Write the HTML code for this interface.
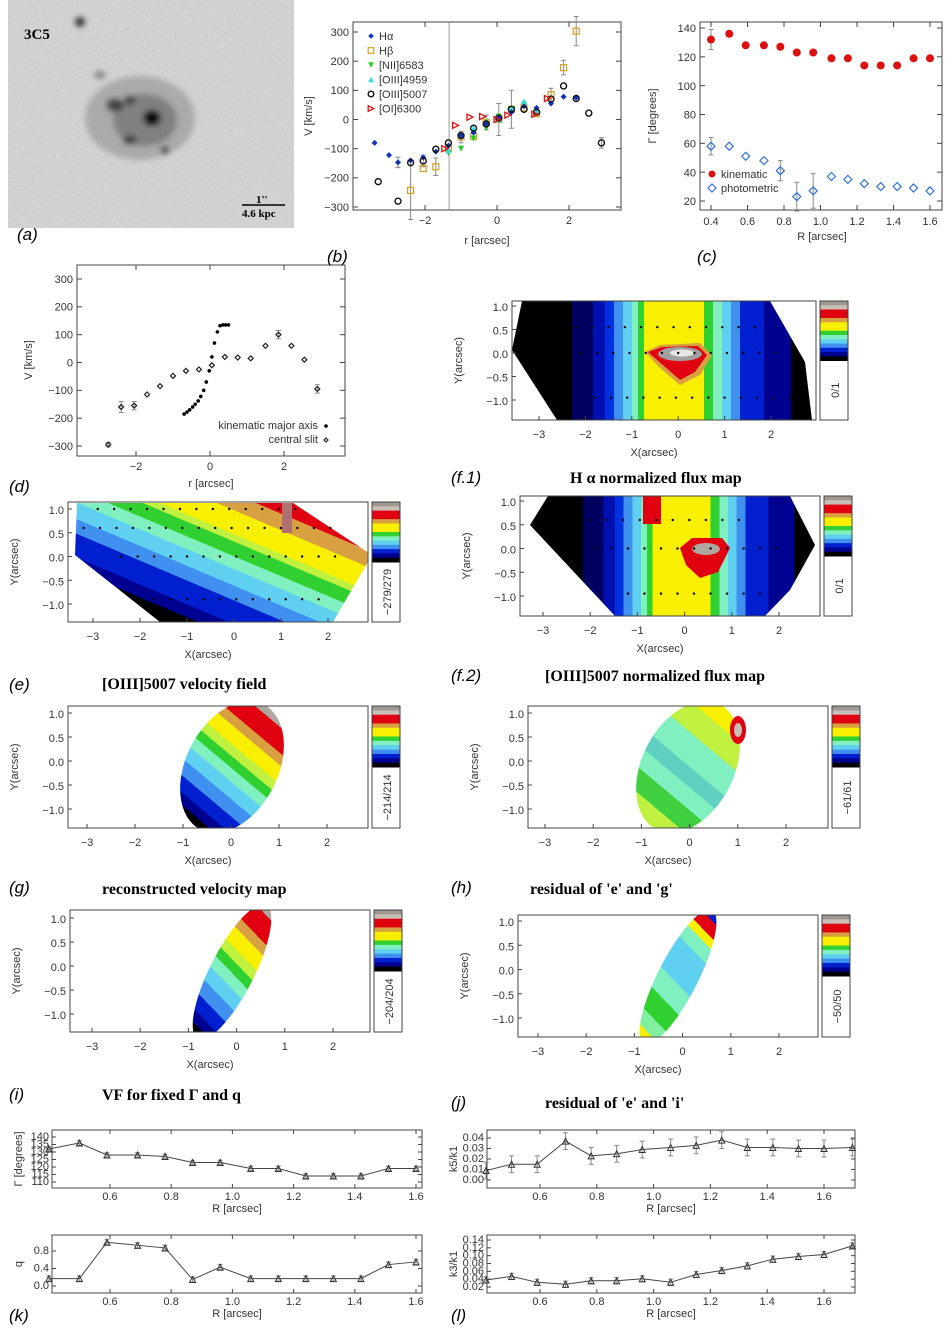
<!DOCTYPE html>
<html><head><meta charset="utf-8"><style>
html,body{margin:0;padding:0;background:#fff;}
svg{display:block;font-family:"Liberation Sans",sans-serif;}
.t{font-size:11px;fill:#333;}
.lab{font-size:17px;font-style:italic;fill:#000;}
.ttl{font-family:"Liberation Serif",serif;font-weight:bold;font-size:16px;fill:#000;}
</style></head><body>
<svg id="fig" width="952" height="1328" viewBox="0 0 952 1328">
<defs>
<clipPath id="aclip"><rect x="8" y="0" width="286" height="228"/></clipPath>
<filter id="blur4"><feGaussianBlur stdDeviation="3"/></filter>
<filter id="noise" x="0" y="0" width="1" height="1"><feTurbulence type="fractalNoise" baseFrequency="0.9" numOctaves="1" result="n"/><feColorMatrix type="saturate" values="0"/><feComponentTransfer><feFuncA type="table" tableValues="0 0.35"/></feComponentTransfer></filter>
</defs>
<g clip-path="url(#aclip)">
<rect x="8" y="0" width="286" height="228" fill="#d6d6d6"/>
<rect x="8" y="0" width="286" height="228" filter="url(#noise)"/>
<g filter="url(#blur4)">
<ellipse cx="140" cy="118" rx="55" ry="42" fill="#aaaaaa"/>
<ellipse cx="145" cy="120" rx="32" ry="26" fill="#808080"/>
<ellipse cx="115" cy="105" rx="9" ry="7" fill="#444"/>
<ellipse cx="130" cy="100" rx="6" ry="5" fill="#444"/>
<ellipse cx="152" cy="118" rx="9" ry="8" fill="#111"/>
<ellipse cx="165" cy="150" rx="4" ry="4" fill="#333"/>
<ellipse cx="130" cy="140" rx="7" ry="5" fill="#444"/>
<ellipse cx="80" cy="22" rx="5" ry="5" fill="#333"/>
<ellipse cx="100" cy="75" rx="6" ry="4" fill="#888"/>
</g>
<text x="24" y="39" font-family="Liberation Serif" font-weight="bold" font-size="15">3C5</text>
<text x="256" y="203" font-family="Liberation Serif" font-weight="bold" font-size="11">1''</text>
<line x1="242" y1="205" x2="285" y2="205" stroke="#000" stroke-width="1.5"/>
<text x="242" y="217" font-family="Liberation Serif" font-weight="bold" font-size="11">4.6 kpc</text>
</g>
<g id="root"></g>
<g>
<text class="lab" x="17" y="240">(a)</text>
<text class="lab" x="327" y="262">(b)</text>
<text class="lab" x="697" y="262">(c)</text>
<text class="lab" x="9" y="492">(d)</text>
<text class="lab" x="451" y="483">(f.1)</text>
<text class="ttl" x="570" y="483">H α normalized flux map</text>
<text class="lab" x="9" y="690">(e)</text>
<text class="ttl" x="102" y="689">[OIII]5007 velocity field</text>
<text class="lab" x="451" y="681">(f.2)</text>
<text class="ttl" x="545" y="681">[OIII]5007 normalized flux map</text>
<text class="lab" x="9" y="893">(g)</text>
<text class="ttl" x="102" y="894">reconstructed velocity map</text>
<text class="lab" x="451" y="893">(h)</text>
<text class="ttl" x="530" y="894">residual of 'e' and 'g'</text>
<text class="lab" x="9" y="1100">(i)</text>
<text class="ttl" x="102" y="1100">VF for fixed Γ and q</text>
<text class="lab" x="451" y="1108">(j)</text>
<text class="ttl" x="545" y="1108">residual of 'e' and 'i'</text>
<text class="lab" x="9" y="1321">(k)</text>
<text class="lab" x="451" y="1321">(l)</text>
</g>
</svg>
<script>
// ---------- data ----------
const bHaR=[-3.4,-3.0,-2.75,-2.4,-2.05,-1.7,-1.35,-1.0,-0.65,-0.3,0.05,0.4,0.75,1.1,1.5,1.85,2.2];
const bHaV=[-80,-122,-147,-140,-130,-110,-90,-55,-45,-15,5,25,45,40,55,78,75];
const bHbR=[-2.4,-2.05,-1.7,-1.35,-1.0,-0.65,-0.3,0.05,0.4,0.75,1.1,1.5,1.85,2.2];
const bHbV=[-243,-168,-162,-100,-60,-58,-10,0,35,40,20,85,178,303];
const bNiiR=[-1.35,-1.0,-0.65,-0.3,0.05,0.4,0.75,1.1];
const bNiiV=[-115,-100,-65,-30,10,35,50,30];
const bO4959R=[-1.35,-1.0,-0.65,-0.3,0.05,0.4,0.75,1.1];
const bO4959V=[-105,-55,-30,-5,0,40,62,30];
const bO5007R=[-3.3,-2.75,-2.4,-2.05,-1.7,-1.35,-1.0,-0.65,-0.3,0.05,0.4,0.75,1.1,1.5,1.85,2.2,2.55,2.9];
const bO5007V=[-213,-280,-148,-142,-102,-80,-55,-30,-15,5,35,35,25,70,115,72,22,-80];
const bOiR=[-1.45,-1.15,-0.75,-0.4,0.0,0.3,1.05,1.4];
const bOiV=[-100,-20,8,10,0,15,18,72];
const cR=[0.4,0.5,0.59,0.69,0.78,0.87,0.96,1.06,1.15,1.24,1.33,1.42,1.51,1.6];
const cKin=[132,136,128,128,127,123,123,119,119,114,114,114,119,119];
const cPhot=[58,58,51,48,41,23,27,37,35,32,30,30,29,27];
const dKinR=[-0.70,-0.62,-0.55,-0.47,-0.40,-0.32,-0.25,-0.17,-0.10,-0.02,0.05,0.12,0.20,0.27,0.35,0.42,0.50];
const dKinV=[-185,-178,-170,-160,-150,-138,-122,-100,-70,-30,20,70,110,132,135,135,135];
const dSlitR=[-2.75,-2.4,-2.05,-1.7,-1.35,-1.0,-0.65,-0.3,0.05,0.4,0.75,1.1,1.5,1.85,2.2,2.55,2.9];
const dSlitV=[-295,-160,-155,-115,-85,-48,-30,-25,-10,20,18,15,60,100,60,10,-95];
const kR=[0.4,0.5,0.59,0.69,0.78,0.87,0.96,1.06,1.15,1.24,1.33,1.42,1.51,1.6];
const kGamma=[132,136,128,128,127,123,123,119,119,114,114,114,119,119];
const kQ=[0.17,0.17,1.0,0.93,0.87,0.15,0.43,0.17,0.17,0.17,0.17,0.17,0.49,0.55];
const lR=[0.41,0.5,0.59,0.69,0.78,0.87,0.96,1.06,1.15,1.24,1.33,1.42,1.51,1.6,1.7];
const lK5=[0.009,0.015,0.015,0.037,0.023,0.025,0.029,0.031,0.033,0.038,0.031,0.031,0.030,0.030,0.031];
const lK3=[0.038,0.047,0.032,0.027,0.036,0.036,0.041,0.032,0.052,0.062,0.074,0.091,0.098,0.103,0.125];
const bTicksX=[-2,0,2], bTicksY=[-300,-200,-100,0,100,200,300];
const cTicksX=[0.4,0.6,0.8,1.0,1.2,1.4,1.6], cTicksY=[20,40,60,80,100,120,140];
const mapTicksX=[-3,-2,-1,0,1,2], mapTicksY=[1.0,0.5,0.0,-0.5,-1.0];

const NS="http://www.w3.org/2000/svg";
const root=document.getElementById('root');
function mk(tag,attrs,parent,name,inter){
  const el=document.createElementNS(NS,tag);
  for(const k in attrs) el.setAttribute(k,attrs[k]);
  
  
  (parent||root).appendChild(el);return el;
}
function txt(x,y,s,parent,name,extra){const e=mk('text',Object.assign({x:x,y:y,class:'t'},extra||{}),parent,name,false);e.textContent=s;return e;}
function lin(d0,d1,r0,r1){return v=>r0+(v-d0)*(r1-r0)/(d1-d0);}
function fmt(v,d){return v.toFixed(d).replace('-','−');}

function frame(g,x0,y0,x1,y1,name){mk('rect',{x:x0,y:y0,width:x1-x0,height:y1-y0,fill:'none',stroke:'#444','stroke-width':1},g,name,false);}
function ticks(g,X,Y,x0,y0,x1,y1,tx,ty,dx,dy,fs,len){
  tx.forEach(v=>{const p=X(v);
    mk('line',{x1:p,y1:y1,x2:p,y2:y1-len,stroke:'#444'},g,'x-tick',false);
    mk('line',{x1:p,y1:y0,x2:p,y2:y0+len,stroke:'#444'},g,'x-tick',false);
    txt(p,y1+fs+3,fmt(v,dx),g,'x-tick-label',{'text-anchor':'middle','font-size':fs});});
  ty.forEach(v=>{const p=Y(v);
    mk('line',{x1:x0,y1:p,x2:x0+len,y2:p,stroke:'#444'},g,'y-tick',false);
    mk('line',{x1:x1,y1:p,x2:x1-len,y2:p,stroke:'#444'},g,'y-tick',false);
    txt(x0-4,p+fs*0.35,fmt(v,dy),g,'y-tick-label',{'text-anchor':'end','font-size':fs});});
}
function marker(g,type,x,y,col,s){
  s=s||3;
  if(type==='dot') return mk('circle',{cx:x,cy:y,r:1.8,fill:col},g,'point',false);
  if(type==='sq') return mk('rect',{x:x-s,y:y-s,width:2*s,height:2*s,fill:'none',stroke:col,'stroke-width':1.2},g,'point',false);
  if(type==='circ') return mk('circle',{cx:x,cy:y,r:s,fill:'none',stroke:col,'stroke-width':1.4},g,'point',false);
  if(type==='fcirc') return mk('circle',{cx:x,cy:y,r:s,fill:col},g,'point',false);
  if(type==='dtri') return mk('polygon',{points:`${x-s},${y-s} ${x+s},${y-s} ${x},${y+s}`,fill:col},g,'point',false);
  if(type==='utri') return mk('polygon',{points:`${x-s},${y+s} ${x+s},${y+s} ${x},${y-s}`,fill:col},g,'point',false);
  if(type==='otri') return mk('polygon',{points:`${x-s},${y+s} ${x+s},${y+s} ${x},${y-s}`,fill:'none',stroke:col},g,'point',false);
  if(type==='rtri') return mk('polygon',{points:`${x-s},${y-s} ${x-s},${y+s} ${x+s},${y}`,fill:'none',stroke:col,'stroke-width':1.3},g,'point',false);
  if(type==='diam') return mk('polygon',{points:`${x},${y-s} ${x+s},${y} ${x},${y+s} ${x-s},${y}`,fill:'none',stroke:col,'stroke-width':1.2},g,'point',false);
  if(type==='fdiam') return mk('polygon',{points:`${x},${y-s} ${x+s},${y} ${x},${y+s} ${x-s},${y}`,fill:col},g,'point',false);
}
function err(g,x,y0,y1){mk('line',{x1:x,y1:y0,x2:x,y2:y1,stroke:'#888'},g,'error-bar',false);
  mk('line',{x1:x-2.5,y1:y0,x2:x+2.5,y2:y0,stroke:'#888'},g,'error-cap',false);
  mk('line',{x1:x-2.5,y1:y1,x2:x+2.5,y2:y1,stroke:'#888'},g,'error-cap',false);}

// ---------- panel b ----------
(function(){
  const g=mk('g',{},root,'panel-b-velocity-curves',false);
  const X=lin(0,2,497,569),Y=lin(300,-300,32,207);
  frame(g,353,22,621,210,'plot-frame');
  ticks(g,X,Y,353,22,621,210,bTicksX,bTicksY,0,0,11,5);
  mk('line',{x1:X(-1.33),y1:22,x2:X(-1.33),y2:210,stroke:'#999'},g,'reference-line',false);
  txt(487,244,'r [arcsec]',g,'x-axis-title',{'text-anchor':'middle'});
  txt(0,0,'V [km/s]',g,'y-axis-title',{'text-anchor':'middle',transform:'translate(312,116) rotate(-90)'});
  [[-2.4,-243,100],[-1.0,-60,20],[0.05,0,55],[-0.3,-10,25],[0.4,35,65],[1.5,85,22],[1.85,178,25],[2.2,303,50],[2.9,-80,18],[-2.75,-147,18],[-2.05,-142,20],[-1.7,-162,30]].forEach(d=>err(g,X(d[0]),Y(d[1]+d[2]),Y(d[1]-d[2])));
  const sets=[[bHbR,bHbV,'sq','#d4a020'],[bNiiR,bNiiV,'dtri','#22cc22'],[bO4959R,bO4959V,'utri','#33dddd'],[bHaR,bHaV,'fdiam','#1030c0'],[bO5007R,bO5007V,'circ','#111'],[bOiR,bOiV,'rtri','#dd1010']];
  sets.forEach(s=>s[0].forEach((r,i)=>marker(g,s[2],X(r),Y(s[1][i]),s[3],3)));
  const leg=[['Hα','fdiam','#1030c0'],['Hβ','sq','#d4a020'],['[NII]6583','dtri','#22cc22'],['[OIII]4959','utri','#33dddd'],['[OIII]5007','circ','#111'],['[OI]6300','rtri','#dd1010']];
  leg.forEach((l,i)=>{const y=39+i*14.5;const lg=mk('g',{},g,'legend-entry',false);marker(lg,l[1],371,y-3,l[2],2.8);txt(379,y+1,l[0],lg,'legend-label',{'font-size':11});});
})();

// ---------- panel c ----------
(function(){
  const g=mk('g',{},root,'panel-c-position-angle',false);
  const X=lin(0.4,1.6,711,930),Y=lin(140,20,28,201);
  frame(g,700,22,942,210,'plot-frame');
  ticks(g,X,Y,700,22,942,210,cTicksX,cTicksY,1,0,12,5);
  txt(822,240,'R [arcsec]',g,'x-axis-title',{'text-anchor':'middle','font-size':12});
  txt(0,0,'Γ [degrees]',g,'y-axis-title',{'text-anchor':'middle','font-size':12,transform:'translate(656,116) rotate(-90)'});
  err(g,X(0.4),Y(cKin[0]+7),Y(cKin[0]-7));err(g,X(0.4),Y(cPhot[0]+6),Y(cPhot[0]-6));
  err(g,X(0.78),Y(cPhot[4]+7),Y(cPhot[4]-7));err(g,X(0.87),Y(cPhot[5]+10),Y(cPhot[5]-10));err(g,X(0.96),Y(cPhot[6]+12),Y(cPhot[6]-12));
  cR.forEach((r,i)=>{marker(g,'fcirc',X(r),Y(cKin[i]),'#dd1010',4);marker(g,'diam',X(r),Y(cPhot[i]),'#3070e0',4);});
  marker(g,'fcirc',712,174,'#dd1010',3.5);txt(721,178,'kinematic',g,'legend-label',{'font-size':12});
  marker(g,'diam',712,188,'#3070e0',4);txt(721,192,'photometric',g,'legend-label',{'font-size':12});
})();

// ---------- panel d ----------
(function(){
  const g=mk('g',{},root,'panel-d-velocity',false);
  const X=lin(0,2,210,284),Y=lin(300,-300,279,446);
  frame(g,77,265,345,456,'plot-frame');
  ticks(g,X,Y,77,265,345,456,[-2,0,2],bTicksY,0,0,11,5);
  txt(211,487,'r [arcsec]',g,'x-axis-title',{'text-anchor':'middle'});
  txt(0,0,'V [km/s]',g,'y-axis-title',{'text-anchor':'middle',transform:'translate(32,360) rotate(-90)'});
  dKinR.forEach((r,i)=>marker(g,'dot',X(r),Y(dKinV[i]),'#000'));
  [[-2.4,20],[-2.05,15],[1.85,15],[2.9,15],[-2.75,8]].forEach(d=>{const i=dSlitR.indexOf(d[0]);err(g,X(d[0]),Y(dSlitV[i]+d[1]),Y(dSlitV[i]-d[1]));});
  dSlitR.forEach((r,i)=>marker(g,'diam',X(r),Y(dSlitV[i]),'#222',2.5));
  txt(318,429,'kinematic major axis',g,'legend-label',{'text-anchor':'end','font-size':10});marker(g,'dot',326,426,'#000');
  txt(318,443,'central slit',g,'legend-label',{'text-anchor':'end','font-size':10});marker(g,'diam',326,440,'#222',2);
})();

// ---------- bottom small panels ----------
function small(name,x0,y0,x1,y1,X,Y,tx,ty,dy,R,V,errs,ytitle){
  const g=mk('g',{},root,name,false);
  frame(g,x0,y0,x1,y1,'plot-frame');
  tx.forEach(v=>{const p=X(v);mk('line',{x1:p,y1:y1,x2:p,y2:y1-4,stroke:'#444'},g,'x-tick',false);mk('line',{x1:p,y1:y0,x2:p,y2:y0+4,stroke:'#444'},g,'x-tick',false);txt(p,y1+12,v.toFixed(1),g,'x-tick-label',{'text-anchor':'middle','font-size':9});});
  ty.forEach(v=>{const p=Y(v);mk('line',{x1:x0,y1:p,x2:x0+4,y2:p,stroke:'#444'},g,'y-tick',false);mk('line',{x1:x1,y1:p,x2:x1-4,y2:p,stroke:'#444'},g,'y-tick',false);txt(x0-3,p+3,v.toFixed(dy),g,'y-tick-label',{'text-anchor':'end','font-size':ty.length>4?7.5:9});});
  txt((x0+x1)/2,y1+24,'R [arcsec]',g,'x-axis-title',{'text-anchor':'middle','font-size':9});
  txt(0,0,ytitle,g,'y-axis-title',{'text-anchor':'middle','font-size':9,transform:`translate(${x0-30},${(y0+y1)/2}) rotate(-90)`});
  mk('polyline',{points:R.map((r,i)=>X(r)+','+Y(V[i])).join(' '),fill:'none',stroke:'#444'},g,'series-line',false);
  if(errs) R.forEach((r,i)=>err(g,X(r),Y(V[i]+errs),Y(V[i]-errs)));
  R.forEach((r,i)=>marker(g,'otri',X(r),Y(V[i]),'#333',3));
}
small('panel-k-gamma',52,1130,422,1188,lin(0.6,1.6,110,416),lin(140,110,1137,1182),[0.6,0.8,1.0,1.2,1.4,1.6],[110,115,120,125,130,135,140],0,kR,kGamma,1.5,'Γ [degrees]');
small('panel-k-q',52,1235,422,1293,lin(0.6,1.6,110,416),lin(0.8,0.0,1251,1286),[0.6,0.8,1.0,1.2,1.4,1.6],[0.0,0.4,0.8],1,kR,kQ,0.06,'q');
small('panel-l-k5k1',487,1130,855,1188,lin(0.6,1.6,540,824),lin(0.04,0.0,1138,1180),[0.6,0.8,1.0,1.2,1.4,1.6],[0.00,0.01,0.02,0.03,0.04],2,lR,lK5,0.008,'k5/k1');
small('panel-l-k3k1',487,1235,855,1293,lin(0.6,1.6,540,824),lin(0.14,0.02,1240,1287),[0.6,0.8,1.0,1.2,1.4,1.6],[0.02,0.04,0.06,0.08,0.10,0.12,0.14],2,lR,lK3,0.008,'k3/k1');

// ---------- maps ----------
const cbCols=['#a09890','#c8c0b8','#e00010','#e00010','#d8a040','#f8f000','#f8f000','#30d030','#80f0c0','#60d0f0','#4090f0','#0020d0','#000090','#000'];
const defs=document.querySelector('defs');
let gid=0;
function grad(stops,x1,y1,x2,y2){const id='g'+(gid++);
  const lg=mk('linearGradient',{id:id,x1:x1,y1:y1,x2:x2,y2:y2,gradientUnits:'userSpaceOnUse'},defs,'gradient',false);
  stops.forEach((s,i)=>{
    mk('stop',{offset:s[0],'stop-color':s[1]},lg,'gradient-stop',false);
    const nx=i<stops.length-1?stops[i+1][0]:1;
    mk('stop',{offset:nx,'stop-color':s[1]},lg,'gradient-stop',false);
  });
  return 'url(#'+id+')';}
function map(name,bx,by,bw,bh,x3,x2,y1,ym1,cblabel,draw){
  const g=mk('g',{},root,name,false);
  const X=lin(-3,2,x3,x2),Y=lin(1,-1,y1,ym1);
  const cid='c'+(gid++);const cp=mk('clipPath',{id:cid},defs,'clip',false);mk('rect',{x:bx,y:by,width:bw,height:bh},cp,'clip-rect',false);
  const inner=mk('g',{'clip-path':'url(#'+cid+')'},g,'map-field',false);
  draw(inner,X,Y);
  frame(g,bx,by,bx+bw,by+bh,'map-frame');
  mapTicksX.forEach(v=>{const p=X(v);mk('line',{x1:p,y1:by+bh,x2:p,y2:by+bh-4,stroke:'#444'},g,'x-tick',false);txt(p,by+bh+18,fmt(v,0),g,'x-tick-label',{'text-anchor':'middle','font-size':14});});
  mapTicksY.forEach(v=>{const p=Y(v);mk('line',{x1:bx,y1:p,x2:bx+4,y2:p,stroke:'#444'},g,'y-tick',false);txt(bx-4,p+5,fmt(v,1),g,'y-tick-label',{'text-anchor':'end','font-size':14});});
  txt(bx+bw/2-10,by+bh+36,'X(arcsec)',g,'x-axis-title',{'text-anchor':'middle','font-size':15});
  txt(0,0,'Y(arcsec)',g,'y-axis-title',{'text-anchor':'middle','font-size':15,transform:`translate(${bx-50},${by+bh/2}) rotate(-90)`});
  const cb=mk('g',{},g,'colorbar',false);const cx=bx+bw+4,cw=28,ch=bh*0.5;
  cbCols.forEach((c,i)=>mk('rect',{x:cx,y:by+i*ch/cbCols.length,width:cw,height:ch/cbCols.length+0.5,fill:c},cb,'colorbar-band',false));
  mk('rect',{x:cx,y:by,width:cw,height:bh,fill:'none',stroke:'#444'},cb,'colorbar-frame',false);
  txt(0,0,cblabel,cb,'colorbar-range',{'text-anchor':'middle','font-size':12,transform:`translate(${cx+19},${by+bh*0.75}) rotate(-90)`});
  return g;
}
const fluxStops=[[0,'#000'],[0.2,'#000060'],[0.27,'#0010b0'],[0.31,'#0030e0'],[0.34,'#4090f0'],[0.37,'#60d0f0'],[0.4,'#80f0c0'],[0.42,'#30d030'],[0.44,'#f8f000'],[0.64,'#30d030'],[0.67,'#80f0c0'],[0.7,'#60d0f0'],[0.73,'#4090f0'],[0.76,'#0020d0'],[0.84,'#000090'],[0.93,'#000']];
function dots(g,X,Y,rows){rows.forEach(r=>{for(let x=r[1];x<=r[2]+0.01;x+=0.35)mk('circle',{cx:X(x),cy:Y(r[0]),r:1.2,fill:'#000'},g,'grid-dot',false);});}
map('panel-f1-halpha-flux',512,301,304,119,539,771,306,400,'0/1',(g,X,Y)=>{
  mk('polygon',{points:'512,350 522,301 770,301 805,362 812,420 557,420',fill:grad(fluxStops,512,0,812,0)},g,'flux-region',false);
  mk('polygon',{points:'645,352 660,345 700,343 712,355 700,375 680,385 660,368',fill:'#d8a040'},g,'flux-ring',false);
  mk('polygon',{points:'648,352 662,347 698,346 707,355 695,372 680,380 664,366',fill:'#e00010'},g,'flux-peak',false);
  mk('ellipse',{cx:680,cy:354,rx:22,ry:7,fill:'#a0a0a0'},g,'flux-core',false);
  mk('ellipse',{cx:682,cy:353,rx:12,ry:3.5,fill:'#e8e8e8'},g,'flux-core-center',false);
  dots(g,X,Y,[[0.55,-2.9,1.7],[0,-2.1,2.1],[-0.95,-1.8,2.4]]);
});
map('panel-e-oiii-velocity',68,502,300,120,93,328,509,604,'−279/279',(g,X,Y)=>{
  mk('polygon',{points:'77,503 293,503 372,555 333,622 160,622 75,555',fill:grad([[0,'#000'],[0.06,'#000090'],[0.13,'#0020d0'],[0.26,'#4090f0'],[0.34,'#60d0f0'],[0.43,'#80f0c0'],[0.5,'#30d030'],[0.58,'#c0f040'],[0.62,'#f8f000'],[0.75,'#d8a040'],[0.84,'#e00010'],[1,'#b0a8a0']],120,600,186,444)},g,'velocity-region',false);
  mk('rect',{x:282,y:503,width:10,height:30,fill:'#b07070'},g,'velocity-max',false);
  dots(g,X,Y,[[1,-2.9,1.3],[0.6,-3.2,2.1],[0,-2.4,2.4],[-0.9,-1.7,2.0]]);
});
map('panel-f2-oiii-flux',520,496,300,120,543,779,501,596,'0/1',(g,X,Y)=>{
  mk('polygon',{points:'548,496 790,496 815,545 790,590 765,616 615,616 530,525',fill:grad(fluxStops,525,0,815,0)},g,'flux-region',false);
  mk('rect',{x:643,y:496,width:18,height:28,fill:'#e00010'},g,'flux-spot',false);
  mk('polygon',{points:'680,548 692,538 722,538 730,548 718,572 700,578 686,565',fill:'#e00010'},g,'flux-peak',false);
  mk('ellipse',{cx:706,cy:549,rx:14,ry:6,fill:'#b0a8a0'},g,'flux-core',false);
  dots(g,X,Y,[[0.6,-2.7,1.4],[0,-1.9,2.1],[-0.95,-1.2,1.8]]);
});
const velStops=[[0,'#b0a8a0'],[0.05,'#e00010'],[0.2,'#d8a040'],[0.27,'#f8f000'],[0.38,'#c0f040'],[0.45,'#30d030'],[0.52,'#80f0c0'],[0.6,'#60d0f0'],[0.7,'#4090f0'],[0.8,'#0020d0'],[0.9,'#000090'],[0.97,'#000']];
map('panel-g-reconstructed-velocity',68,706,300,122,87,327,713,809,'−214/214',(g,X,Y)=>{
  mk('ellipse',{cx:232,cy:767,rx:46,ry:70,transform:'rotate(27 232 767)',fill:grad(velStops,245,700,215,830)},g,'velocity-ellipse',false);
});
map('panel-h-residual-e-g',528,706,300,122,545,786,713,809,'−61/61',(g,X,Y)=>{
  mk('ellipse',{cx:688,cy:767,rx:46,ry:70,transform:'rotate(27 688 767)',fill:grad([[0,'#f8f000'],[0.12,'#c0f040'],[0.3,'#80f0c0'],[0.5,'#60d0c0'],[0.62,'#80f0c0'],[0.75,'#40d040'],[0.9,'#c0f040']],700,700,670,830)},g,'residual-ellipse',false);
  mk('ellipse',{cx:738,cy:730,rx:8,ry:14,fill:'#e00010'},g,'residual-peak',false);
  mk('ellipse',{cx:738,cy:730,rx:4,ry:7,fill:'#c8c0b8'},g,'residual-core',false);
});
map('panel-i-fixed-vf',70,910,300,122,92,333,918,1014,'−204/204',(g,X,Y)=>{
  mk('ellipse',{cx:232,cy:972,rx:22,ry:75,transform:'rotate(27 232 972)',fill:grad(velStops,255,905,210,1035)},g,'velocity-ellipse',false);
});
map('panel-j-residual-e-i',518,915,300,122,538,779,921,1018,'−50/50',(g,X,Y)=>{
  mk('ellipse',{cx:678,cy:977,rx:20,ry:75,transform:'rotate(27 678 977)',fill:grad([[0,'#0020d0'],[0.05,'#e00010'],[0.14,'#f8f000'],[0.2,'#80f0c0'],[0.3,'#60d0f0'],[0.55,'#80f0c0'],[0.7,'#30d030'],[0.85,'#80f0a0'],[0.95,'#f8f000']],700,910,655,1040)},g,'residual-ellipse',false);
});
</script>
</body></html>
